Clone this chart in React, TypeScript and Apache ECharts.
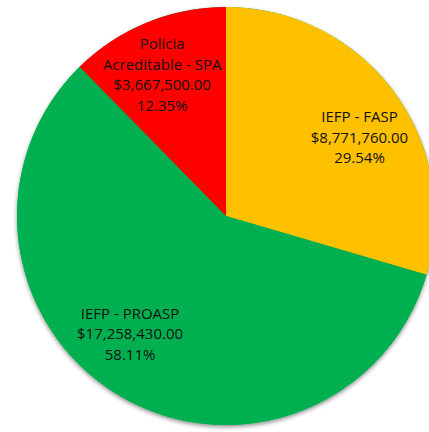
import React, { useEffect, useRef } from "react";
import * as echarts from "echarts";

const categories = ["IEFP - FASP", "IEFP - PROASP", "Policia\nAcreditable - SPA"];
const values = [8771760.0, 17258430.0, 3667500.0];
const colors = ["#FFC000", "#00B050", "#FF0000"];

const fmtMoney = (v: number) =>
  "$" + v.toLocaleString("en-US", { minimumFractionDigits: 2, maximumFractionDigits: 2 });

const nudges: [number, number][] = [
  [9, 14],
  [-16, -16],
  [-5, 2],
];

export default function App() {
  const ref = useRef<HTMLDivElement>(null);
  useEffect(() => {
    if (!ref.current) return;
    const chart = echarts.init(ref.current, null, { renderer: "svg" });
    const data = categories.map((name, i) => ({
      name,
      value: values[i],
      itemStyle: { color: colors[i] },
    }));
    const center = [226, 216];
    chart.setOption({
      animation: false,
      series: [
        {
          type: "pie",
          silent: true,
          center,
          radius: [0, 209],
          z: 1,
          label: { show: false },
          labelLine: { show: false },
          itemStyle: {
            color: "#00B050",
            shadowBlur: 4,
            shadowColor: "rgba(0,0,0,0.45)",
            shadowOffsetY: 2,
          },
          data: [{ name: "", value: 1 }],
        },
        {
          type: "pie",
          silent: true,
          center,
          radius: [0, 209],
          startAngle: 90,
          clockwise: true,
          z: 2,
          label: { show: false },
          labelLine: { show: false },
          itemStyle: { borderWidth: 0 },
          data,
        },
        {
          type: "pie",
          silent: true,
          center,
          radius: [96, 209],
          startAngle: 90,
          clockwise: true,
          z: 3,
          itemStyle: { color: "rgba(0,0,0,0)", borderWidth: 0 },
          labelLine: { show: false },
          label: {
            show: true,
            position: "inside",
            fontFamily: "Open Sans",
            fontSize: 15,
            lineHeight: 20.5,
            color: "#111",
            align: "center",
            formatter: (p: any) => `${p.name}\n${fmtMoney(p.value)}\n${p.percent.toFixed(2)}%`,
          },
          labelLayout: (p: any) => ({ dx: nudges[p.dataIndex][0], dy: nudges[p.dataIndex][1] }),
          data: categories.map((name, i) => ({ name, value: values[i] })),
        },
      ],
    });
    return () => chart.dispose();
  }, []);
  return (
    <div
      ref={ref}
      style={{ position: "fixed", left: 0, top: 0, width: 429, height: 432, background: "#fff" }}
    />
  );
}
